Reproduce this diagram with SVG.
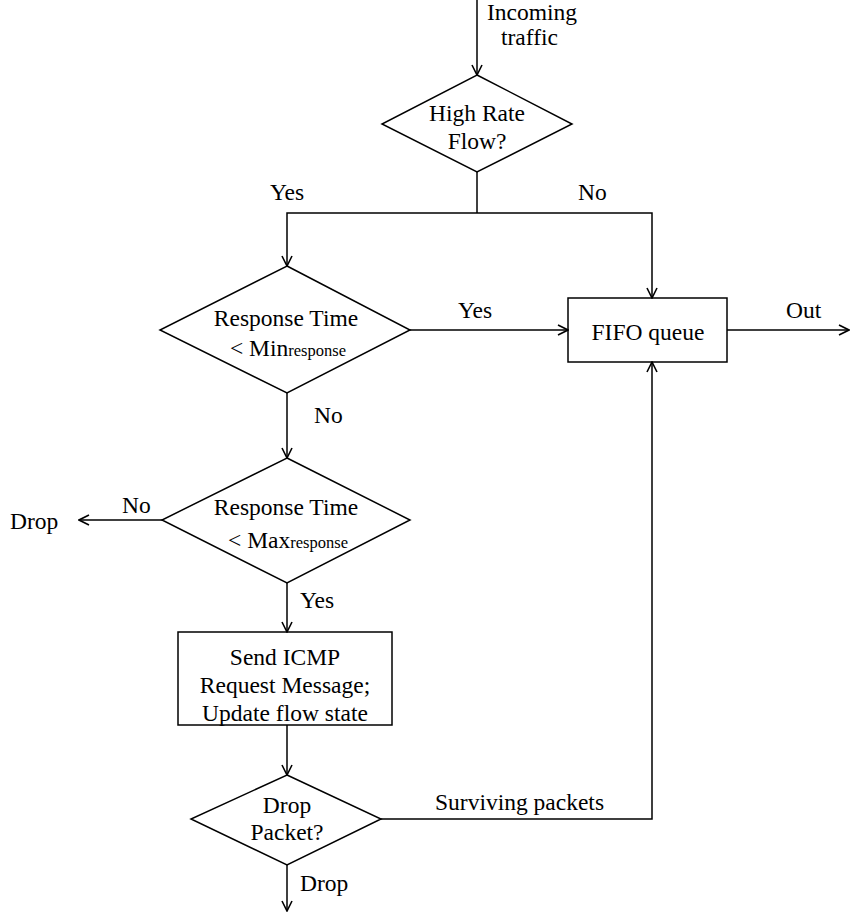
<svg xmlns="http://www.w3.org/2000/svg" width="850" height="912" viewBox="0 0 850 912">
<style>
.s{fill:none;stroke:#000;stroke-width:1.5}
.c{fill:none;stroke:#000;stroke-width:1.5}
.t{font-family:"Liberation Serif","Times New Roman",serif;font-size:23.5px;fill:#000}
.m{text-anchor:middle}
.sub{font-size:16.5px}
</style>
<defs>
<marker id="a" viewBox="0 0 12 12" refX="11" refY="6" markerWidth="12" markerHeight="12" markerUnits="userSpaceOnUse" orient="auto">
<path d="M1,1 L11,6 L1,11" fill="none" stroke="#000" stroke-width="1.6"/>
</marker>
</defs>
<rect width="850" height="912" fill="#fff"/>
<g id="connectors">
<line class="c" x1="477" y1="0" x2="477" y2="75" marker-end="url(#a)"/>
<polyline class="c" points="477,172 477,213"/>
<polyline class="c" points="477,213 287,213 287,266" marker-end="url(#a)"/>
<polyline class="c" points="477,213 652,213 652,298" marker-end="url(#a)"/>
<line class="c" x1="410" y1="330" x2="568" y2="330" stroke-width="2" marker-end="url(#a)"/>
<line class="c" x1="727" y1="330" x2="849" y2="330" stroke-width="2" marker-end="url(#a)"/>
<line class="c" x1="287" y1="393" x2="287" y2="458" stroke-width="2" marker-end="url(#a)"/>
<line class="c" x1="162" y1="520" x2="79" y2="520" stroke-width="2" marker-end="url(#a)"/>
<line class="c" x1="287" y1="583" x2="287" y2="632" marker-end="url(#a)"/>
<line class="c" x1="287" y1="725" x2="287" y2="775" stroke-width="2" marker-end="url(#a)"/>
<polyline class="c" points="381,819 652,819 652,362" marker-end="url(#a)"/>
<line class="c" x1="287" y1="865" x2="287" y2="911" marker-end="url(#a)"/>
<text class="t" x="487" y="20">Incoming</text>
<text class="t" x="501" y="45">traffic</text>
<text class="t" x="270" y="200">Yes</text>
<text class="t" x="578" y="200">No</text>
<text class="t" x="458" y="318">Yes</text>
<text class="t" x="786" y="318">Out</text>
<text class="t" x="314" y="423">No</text>
<text class="t" x="122" y="513">No</text>
<text class="t" x="10" y="529">Drop</text>
<text class="t" x="300" y="608">Yes</text>
<text class="t" x="435" y="810">Surviving packets</text>
<text class="t" x="300" y="891">Drop</text>
</g>
<g id="high-rate">
<polygon class="s" points="477,75 572,124 477,172 382,124"/>
<text class="t m" x="477" y="121">High Rate</text>
<text class="t m" x="477" y="149">Flow?</text>
</g>
<g id="min-response">
<polygon class="s" points="287,266 410,330 287,393 160,330"/>
<text class="t m" x="286" y="326">Response Time</text>
<text class="t m" x="288" y="356">&lt; Min<tspan class="sub">response</tspan></text>
</g>
<g id="fifo">
<rect class="s" x="568" y="298" width="159" height="64"/>
<text class="t m" x="648" y="340">FIFO queue</text>
</g>
<g id="max-response">
<polygon class="s" points="287,458 410,520 287,583 162,520"/>
<text class="t m" x="286" y="515">Response Time</text>
<text class="t m" x="288" y="548">&lt; Max<tspan class="sub">response</tspan></text>
</g>
<g id="send-icmp">
<rect class="s" x="178" y="632" width="214" height="93"/>
<text class="t m" x="285" y="665">Send ICMP</text>
<text class="t m" x="285" y="693">Request Message;</text>
<text class="t m" x="285" y="721">Update flow state</text>
</g>
<g id="drop-packet">
<polygon class="s" points="287,775 381,819 287,865 191,819"/>
<text class="t m" x="287" y="813">Drop</text>
<text class="t m" x="287" y="840">Packet?</text>
</g>
</svg>
